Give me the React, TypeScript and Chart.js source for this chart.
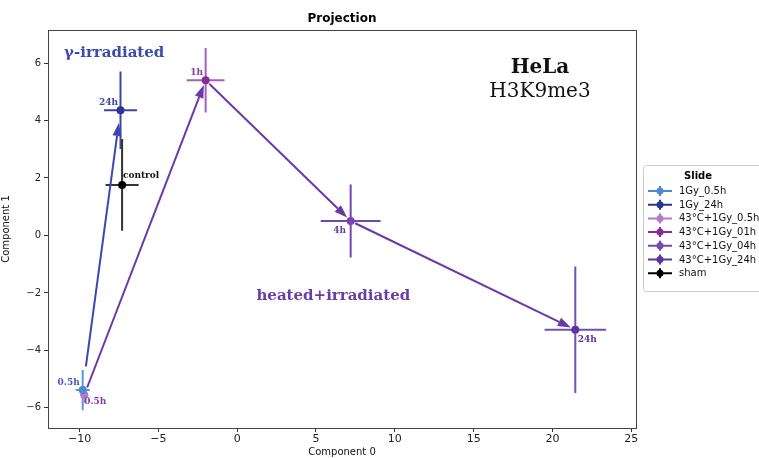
import React, { useEffect, useRef } from "react";
import { Chart, registerables } from "chart.js";

Chart.register(...registerables);

// ---- data ----
const SERIES = ["1Gy_0.5h", "1Gy_24h", "43°C+1Gy_0.5h", "43°C+1Gy_01h", "43°C+1Gy_04h", "43°C+1Gy_24h", "sham"];
const X_VALUES = [-9.8, -7.4, -9.7, -2.0, 7.2, 21.45, -7.3];
const Y_VALUES = [-5.38, 4.36, -5.55, 5.4, 0.5, -3.28, 1.76];
const X_ERR = [0.45, 1.05, 0.25, 1.2, 1.9, 1.95, 1.05];
const Y_ERR = [0.7, 1.35, 0.3, 1.12, 1.27, 2.2, 1.6];
const COLORS = ["#4a8ad4", "#2b3592", "#b27ac8", "#8a2a96", "#7a45b4", "#5b35a0", "#000000"];
const ERR_COLORS = ["#5a98dc", "#3a46a8", "#c08ad0", "#a460bc", "#7048b4", "#7250b6", "#333333"];
const POINT_LABELS = ["0.5h", "24h", "0.5h", "1h", "4h", "24h", "control"];
const X_TICKS = [-10, -5, 0, 5, 10, 15, 20, 25];
const Y_TICKS = [-6, -4, -2, 0, 2, 4, 6];
// arrows: from series index -> to series index
const ARROW_FROM = [0, 2, 3, 4];
const ARROW_TO = [1, 3, 4, 5];
const ARROW_COLORS = ["#3a48b0", "#6a38a8", "#6a38a8", "#6a38a8"];
const ANNOTATION_TEXT = ["γ-irradiated", "heated+irradiated"];
const ANNOTATION_X = [-7.8, 6.1];
const ANNOTATION_Y = [6.33, -2.12];
const ANNOTATION_COLORS = ["#3b4bb0", "#6a3ea8"];

// ---- styles ----
const LABEL_OFFSETS: [number, number][] = [[-14, -7], [-12, -8], [11, 7], [-9, -8], [-11, 10], [12, 10], [19, -9]];
const LABEL_COLORS = ["#4a5ab8", "#3a46a8", "#7a40a8", "#8a3a98", "#6a40a8", "#5b35a0", "#111111"];
const ARROW_SHRINK: [number, number][] = [[24, 13], [8, 5], [5, 5], [5, 5]];

const fmt = (v: number) => (v < 0 ? "\u2212" + Math.abs(v) : String(v));

export default function App() {
  const ref = useRef<HTMLCanvasElement | null>(null);
  useEffect(() => {
    const canvas = ref.current!;
    const decor = {
      id: "decor",
      beforeDatasetsDraw(chart: any) {
        const ctx = chart.ctx;
        const xs = chart.scales.x, ys = chart.scales.y;
        ctx.save();
        for (let i = 0; i < SERIES.length; i++) {
          const px = xs.getPixelForValue(X_VALUES[i]);
          const py = ys.getPixelForValue(Y_VALUES[i]);
          ctx.strokeStyle = ERR_COLORS[i];
          ctx.lineWidth = 2;
          ctx.beginPath();
          ctx.moveTo(xs.getPixelForValue(X_VALUES[i] - X_ERR[i]), py);
          ctx.lineTo(xs.getPixelForValue(X_VALUES[i] + X_ERR[i]), py);
          ctx.moveTo(px, ys.getPixelForValue(Y_VALUES[i] - Y_ERR[i]));
          ctx.lineTo(px, ys.getPixelForValue(Y_VALUES[i] + Y_ERR[i]));
          ctx.stroke();
        }
        ctx.restore();
      },
      afterDatasetsDraw(chart: any) {
        const ctx = chart.ctx;
        const xs = chart.scales.x, ys = chart.scales.y;
        const ca = chart.chartArea;
        ctx.save();
        // arrows
        for (let a = 0; a < ARROW_FROM.length; a++) {
          const i = ARROW_FROM[a], j = ARROW_TO[a];
          const x1 = xs.getPixelForValue(X_VALUES[i]), y1 = ys.getPixelForValue(Y_VALUES[i]);
          const x2 = xs.getPixelForValue(X_VALUES[j]), y2 = ys.getPixelForValue(Y_VALUES[j]);
          const dx = x2 - x1, dy = y2 - y1;
          const len = Math.hypot(dx, dy);
          const ux = dx / len, uy = dy / len;
          const sx = x1 + ux * ARROW_SHRINK[a][0], sy = y1 + uy * ARROW_SHRINK[a][0];
          const ex = x2 - ux * ARROW_SHRINK[a][1], ey = y2 - uy * ARROW_SHRINK[a][1];
          const hl = 13, hw = 4.5;
          const bx = ex - ux * hl, by = ey - uy * hl;
          ctx.strokeStyle = ARROW_COLORS[a];
          ctx.fillStyle = ARROW_COLORS[a];
          ctx.lineWidth = 2;
          ctx.beginPath();
          ctx.moveTo(sx, sy);
          ctx.lineTo(bx, by);
          ctx.stroke();
          ctx.beginPath();
          ctx.moveTo(ex, ey);
          ctx.lineTo(bx - uy * hw, by + ux * hw);
          ctx.lineTo(bx + uy * hw, by - ux * hw);
          ctx.closePath();
          ctx.fill();
        }
        // point labels
        ctx.font = "bold 9px 'DejaVu Serif'";
        ctx.textAlign = "center";
        ctx.textBaseline = "middle";
        for (let i = 0; i < SERIES.length; i++) {
          const px = xs.getPixelForValue(X_VALUES[i]);
          const py = ys.getPixelForValue(Y_VALUES[i]);
          ctx.fillStyle = LABEL_COLORS[i];
          ctx.fillText(POINT_LABELS[i], px + LABEL_OFFSETS[i][0], py + LABEL_OFFSETS[i][1]);
        }
        // annotations
        ctx.font = "bold 15px 'DejaVu Serif'";
        for (let k = 0; k < ANNOTATION_TEXT.length; k++) {
          ctx.fillStyle = ANNOTATION_COLORS[k];
          ctx.fillText(ANNOTATION_TEXT[k], xs.getPixelForValue(ANNOTATION_X[k]), ys.getPixelForValue(ANNOTATION_Y[k]));
        }
        ctx.fillStyle = "#111";
        ctx.font = "bold 20px 'DejaVu Serif'";
        ctx.fillText("HeLa", 540, 68);
        ctx.font = "20px 'DejaVu Serif'";
        ctx.fillText("H3K9me3", 540, 92);
        // frame
        ctx.strokeStyle = "#444";
        ctx.lineWidth = 1;
        ctx.strokeRect(Math.round(ca.left) + 0.5, Math.round(ca.top) + 0.5, Math.round(ca.right - ca.left), Math.round(ca.bottom - ca.top));
        // title
        ctx.fillStyle = "#000";
        ctx.font = "bold 12px 'DejaVu Sans'";
        ctx.fillText("Projection", (ca.left + ca.right) / 2, 19);
        // legend
        const lx = 643, ly = 165;
        ctx.fillStyle = "#fff";
        ctx.strokeStyle = "#cccccc";
        ctx.beginPath();
        ctx.roundRect(lx + 0.5, ly + 0.5, 140, 126, 3);
        ctx.fill();
        ctx.stroke();
        ctx.fillStyle = "#000";
        ctx.font = "bold 10px 'DejaVu Sans'";
        ctx.fillText("Slide", 698, 176);
        ctx.font = "10px 'DejaVu Sans'";
        ctx.textAlign = "left";
        for (let i = 0; i < SERIES.length; i++) {
          const y = 191 + i * 13.7;
          ctx.strokeStyle = COLORS[i];
          ctx.fillStyle = COLORS[i];
          ctx.lineWidth = 2;
          ctx.beginPath();
          ctx.moveTo(648, y);
          ctx.lineTo(672, y);
          ctx.moveTo(660, y - 5);
          ctx.lineTo(660, y + 5);
          ctx.stroke();
          ctx.beginPath();
          ctx.arc(660, y, 3.5, 0, Math.PI * 2);
          ctx.fill();
          ctx.fillStyle = "#111";
          ctx.fillText(SERIES[i], 679, y + 0.5);
        }
        ctx.restore();
      },
    };
    const chart = new Chart(canvas, {
      type: "scatter",
      data: {
        datasets: SERIES.map((name, i) => ({
          label: name,
          data: [{ x: X_VALUES[i], y: Y_VALUES[i] }],
          backgroundColor: COLORS[i],
          borderColor: COLORS[i],
          pointRadius: 4,
          pointBorderWidth: 0,
        })),
      },
      options: {
        responsive: false,
        animation: false,
        layout: { padding: { left: 0, top: 30, right: 123, bottom: 0 } },
        plugins: { legend: { display: false }, tooltip: { enabled: false }, title: { display: false } },
        scales: {
          x: {
            type: "linear",
            min: -12,
            max: 25.3,
            afterBuildTicks: (s: any) => { s.ticks = X_TICKS.map((v) => ({ value: v })); },
            afterFit: (s: any) => { s.height = 30; },
            grid: { drawOnChartArea: false, drawTicks: true, tickLength: 4, color: "#333" },
            border: { display: false },
            ticks: { color: "#222", font: { family: "DejaVu Sans", size: 11 }, padding: 1, maxRotation: 0, callback: (v: any) => fmt(Number(v)) },
            title: { display: true, text: "Component 0", color: "#111", font: { family: "DejaVu Sans", size: 10 }, padding: { top: 0, bottom: 0 } },
          },
          y: {
            type: "linear",
            min: -6.7,
            max: 7.15,
            afterBuildTicks: (s: any) => { s.ticks = Y_TICKS.map((v) => ({ value: v })); },
            afterFit: (s: any) => { s.width = 48; },
            grid: { drawOnChartArea: false, drawTicks: true, tickLength: 4, color: "#333" },
            border: { display: false },
            ticks: { color: "#222", font: { family: "DejaVu Sans", size: 10 }, padding: 3, callback: (v: any) => fmt(Number(v)) },
            title: { display: true, text: "Component 1", color: "#111", font: { family: "DejaVu Sans", size: 10 }, padding: { top: 0, bottom: 2 } },
          },
        },
      },
      plugins: [decor],
    } as any);
    return () => chart.destroy();
  }, []);
  return (
    <div style={{ position: "fixed", left: 0, top: 0, width: 759, height: 458, background: "#fff" }}>
      <canvas ref={ref} width={759} height={458} />
    </div>
  );
}
